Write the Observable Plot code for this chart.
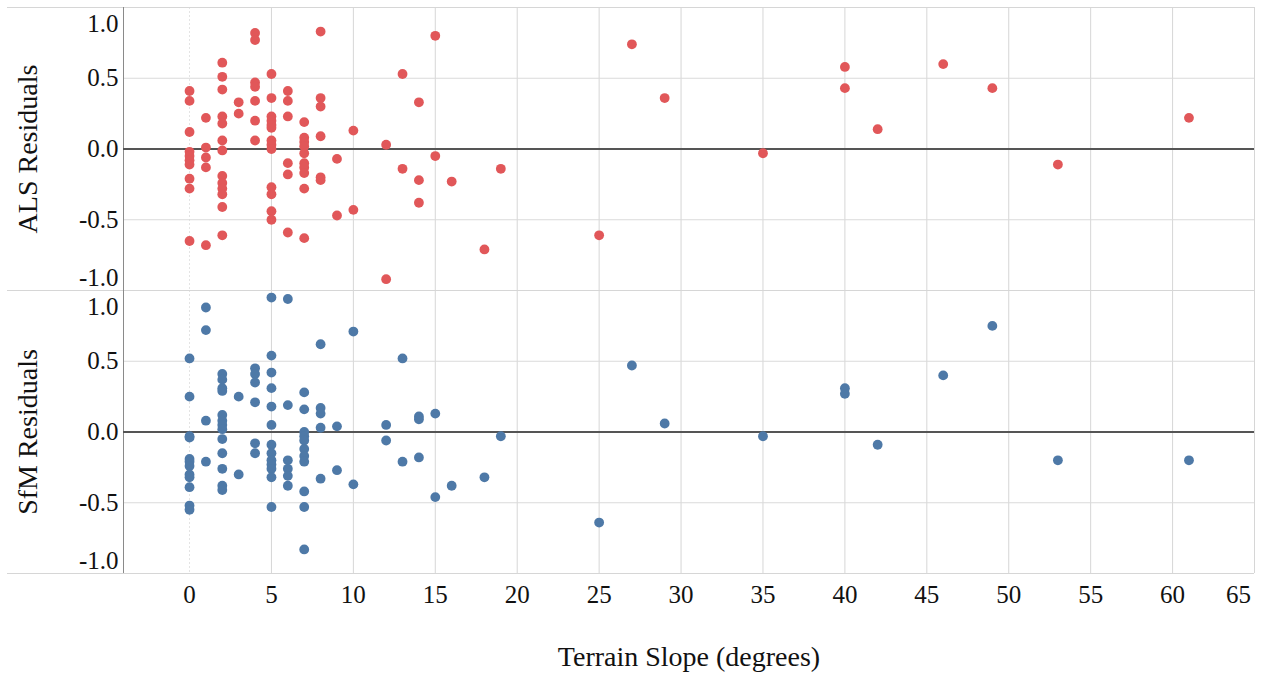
<!DOCTYPE html>
<html>
<head>
<meta charset="utf-8">
<script src="https://cdn.jsdelivr.net/npm/d3@7"></script>
<script src="https://cdn.jsdelivr.net/npm/@observablehq/plot@0.6"></script>
<style>
  body { margin: 0; background: #fff; }
</style>
</head>
<body>
<div id="chart"></div>
<script>
// Residuals of the two elevation models, grouped by terrain slope (degrees).
const panels = ["ALS Residuals", "SfM Residuals"];

const alsSlopes = [0, 1, 2, 3, 4, 5, 6, 7, 8, 9, 10, 12, 13, 14, 15, 16, 18, 19, 25, 27, 29, 35, 40, 42, 46, 49, 53, 61];
const alsResiduals = [
  [0.41, 0.34, 0.12, -0.02, -0.05, -0.08, -0.11, -0.21, -0.28, -0.65],
  [0.22, 0.01, -0.06, -0.13, -0.68],
  [0.61, 0.51, 0.42, 0.23, 0.18, 0.06, -0.01, -0.19, -0.24, -0.28, -0.32, -0.41, -0.61],
  [0.33, 0.25],
  [0.82, 0.77, 0.47, 0.44, 0.34, 0.20, 0.06],
  [0.53, 0.36, 0.23, 0.20, 0.17, 0.15, 0.06, 0.03, 0.00, -0.27, -0.32, -0.44, -0.50],
  [0.41, 0.34, 0.23, -0.10, -0.18, -0.59],
  [0.19, 0.08, 0.05, 0.02, -0.03, -0.10, -0.13, -0.17, -0.28, -0.63],
  [0.83, 0.36, 0.30, 0.09, -0.20, -0.22],
  [-0.07, -0.47],
  [0.13, -0.43],
  [0.03, -0.92],
  [0.53, -0.14],
  [0.33, -0.22, -0.38],
  [0.80, -0.05],
  [-0.23],
  [-0.71],
  [-0.14],
  [-0.61],
  [0.74],
  [0.36],
  [-0.03],
  [0.58, 0.43],
  [0.14],
  [0.60],
  [0.43],
  [-0.11],
  [0.22]
];

const sfmSlopes = [0, 1, 2, 3, 4, 5, 6, 7, 8, 9, 10, 12, 13, 14, 15, 16, 18, 19, 25, 27, 29, 35, 40, 42, 46, 49, 53, 61];
const sfmResiduals = [
  [0.52, 0.25, -0.03, -0.04, -0.19, -0.21, -0.24, -0.30, -0.32, -0.39, -0.52, -0.55],
  [0.88, 0.72, 0.08, -0.21],
  [0.41, 0.37, 0.31, 0.29, 0.12, 0.08, 0.05, 0.02, -0.05, -0.15, -0.26, -0.38, -0.41],
  [0.25, -0.30],
  [0.45, 0.41, 0.35, 0.21, -0.08, -0.15],
  [0.95, 0.54, 0.42, 0.31, 0.18, 0.05, -0.09, -0.15, -0.20, -0.23, -0.26, -0.32, -0.53],
  [0.94, 0.19, -0.20, -0.26, -0.31, -0.38],
  [0.28, 0.16, 0.00, -0.03, -0.06, -0.12, -0.17, -0.21, -0.42, -0.53, -0.83],
  [0.62, 0.17, 0.13, 0.03, -0.33],
  [0.04, -0.27],
  [0.71, -0.37],
  [0.05, -0.06],
  [0.52, -0.21],
  [0.11, 0.09, -0.18],
  [0.13, -0.46],
  [-0.38],
  [-0.32],
  [-0.03],
  [-0.64],
  [0.47],
  [0.06],
  [-0.03],
  [0.31, 0.27],
  [-0.09],
  [0.40],
  [0.75],
  [-0.20],
  [-0.20]
];

const xTicks = [0, 5, 10, 15, 20, 25, 30, 35, 40, 45, 50, 55, 60, 65];
const yInnerTicks = [-0.5, 0, 0.5];
const seriesColors = ["#E15759", "#4E79A7"];

// Flatten the grouped residuals into one row per observation
const rows = [];
function addSeries(panel, slopes, residuals) {
  slopes.forEach((s, i) => residuals[i].forEach(r => rows.push({panel, slope: s, residual: r})));
}
addSeries(panels[0], alsSlopes, alsResiduals);
addSeries(panels[1], sfmSlopes, sfmResiduals);

const serif = "'Liberation Serif', 'Times New Roman', Times, serif";
const fmt = d => d.toFixed(1);
const yAxisOpts = {tickSize: 0, tickPadding: 5, label: null, tickFormat: fmt, fontSize: 25};
const xAxisOpts = {tickSize: 0, tickPadding: 12, tickFormat: d => String(d), fontSize: 25, label: null};
const lastX = xTicks[xTicks.length - 1];

const chart = Plot.plot({
  width: 1266,
  height: 674,
  marginTop: 6,
  marginBottom: 101,
  marginLeft: 123,
  marginRight: 12,
  style: {fontFamily: serif, fontSize: "25px", color: "#111", background: "#fff"},
  x: {domain: [-4.03, 65]},
  y: {domain: [-1, 1]},
  fy: {domain: panels, padding: 0, axis: null},
  color: {domain: panels, range: seriesColors},
  marks: [
    // grid
    Plot.gridX(xTicks.filter(d => d > 0), {stroke: "#d6d6d6", strokeOpacity: 1}),
    Plot.gridX([0], {stroke: "#e4e4e4", strokeOpacity: 1, strokeDasharray: "2,2"}),
    Plot.gridY([-0.5, 0.5], {stroke: "#dadada", strokeOpacity: 1}),
    Plot.ruleY([1, -1], {stroke: "#d6d6d6", insetLeft: -116}),
    Plot.ruleX([-4.03], {stroke: "#8a8a8a"}),
    Plot.ruleY([0], {stroke: "#555", strokeWidth: 2}),
    // observations
    Plot.dot(rows, {x: "slope", y: "residual", fy: "panel", fill: "panel", r: 4.9}),
    // y tick labels; the end labels sit just inside each panel
    Plot.axisY({...yAxisOpts, ticks: yInnerTicks}),
    Plot.axisY({...yAxisOpts, ticks: [1], dy: 16}),
    Plot.axisY({...yAxisOpts, ticks: [-1], dy: -13}),
    // panel titles
    Plot.text(panels, {
      fy: d => d, text: d => d, frameAnchor: "left", textAnchor: "middle",
      dx: -95, rotate: -90, fontSize: 28, fill: "#111"
    }),
    // x axis; the last label is kept inside the frame
    Plot.axisX({...xAxisOpts, ticks: xTicks.filter(d => d < lastX)}),
    Plot.axisX({...xAxisOpts, ticks: [lastX], dx: -16}),
    Plot.text(["Terrain Slope (degrees)"], {
      text: d => d, frameAnchor: "bottom", dy: 92, fontSize: 28, fill: "#111",
      facetAnchor: "bottom"
    })
  ]
});

document.getElementById("chart").append(chart);
</script>
</body>
</html>
